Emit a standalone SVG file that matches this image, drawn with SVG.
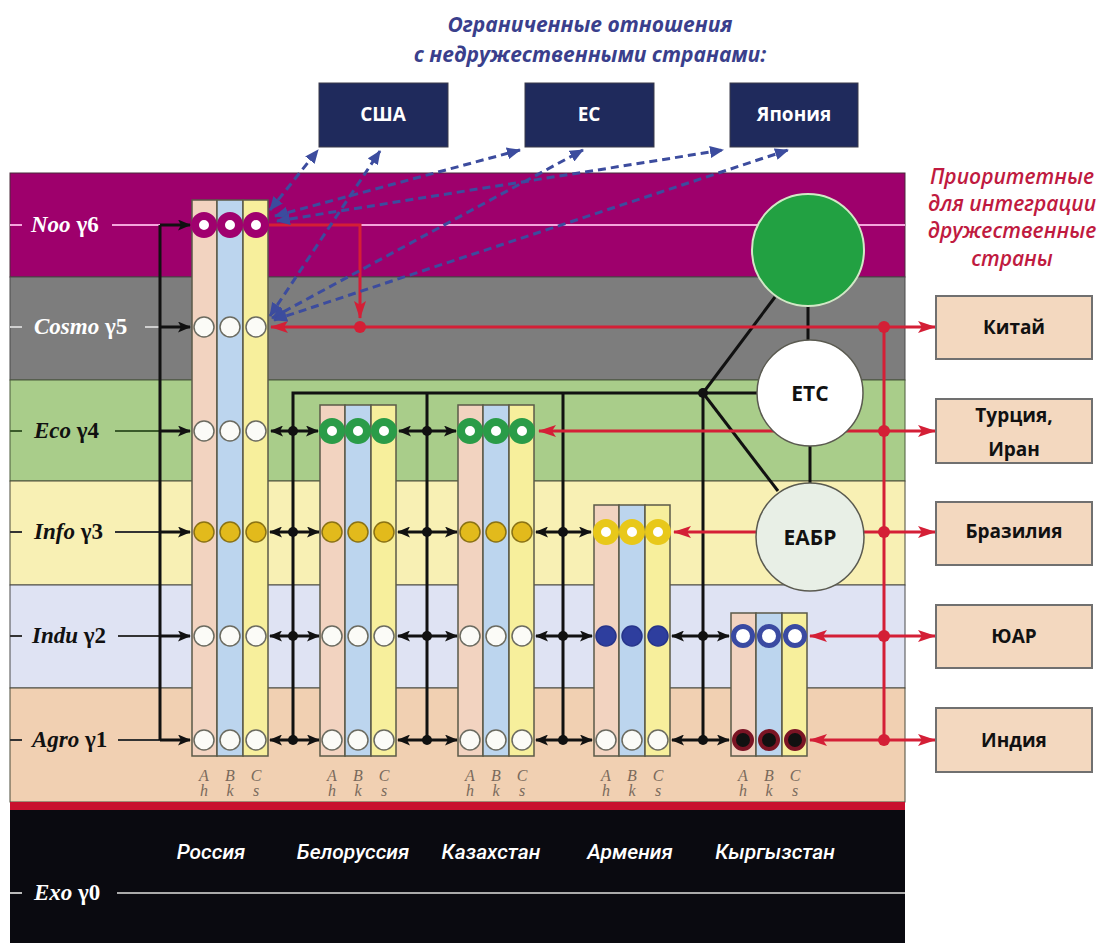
<svg xmlns="http://www.w3.org/2000/svg" width="1102" height="943" viewBox="0 0 1102 943">
<defs>
<style>
.lvl{font-family:"Liberation Serif",serif;font-weight:bold;font-size:23px}
.lvl .i{font-style:italic}
.abc{font-family:"Liberation Serif",serif;font-style:italic;font-size:16px;fill:#7a6a5c;text-anchor:middle}
.cty{font-family:Roboto,"Open Sans",sans-serif;font-style:italic;font-weight:500;font-size:21px;fill:#fff;text-anchor:middle}
.bn{fill:#1f2a5c;stroke:#3a3a4a;stroke-width:1}
.bnt{font-family:"Open Sans",sans-serif;font-weight:bold;font-size:19px;fill:#fff;text-anchor:middle}
.bf{fill:#f3d8bf;stroke:#707070;stroke-width:2}
.bft{font-family:"Open Sans",sans-serif;font-weight:bold;font-size:19px;fill:#111;text-anchor:middle}
.ct{font-family:"Open Sans",sans-serif;font-weight:bold;font-size:21px;fill:#111;text-anchor:middle}
.sa{fill:#f2d3c0}.sb{fill:#bcd5ee}.sc{fill:#f7ef9c}
.st{stroke:#5b5a48;stroke-width:1.5}
.cw{fill:#fbfbf7;stroke:#6b6b60;stroke-width:1.5}
.cm{fill:#fff;stroke:#a0006e;stroke-width:8}
.cg{fill:#fff;stroke:#2a9c48;stroke-width:8}
.cyr{fill:#fff;stroke:#e8c81a;stroke-width:8}
.cbr{fill:#fff;stroke:#3a4aa2;stroke-width:5}
.cyf{fill:#e2ba1c;stroke:#8a7214;stroke-width:1.5}
.cbf{fill:#2e3e9e;stroke:#26348a;stroke-width:1.5}
.ck{fill:#111;stroke:#7a1424;stroke-width:4}
.bl{stroke:#111;stroke-width:3;fill:none}
.dbl{stroke:#111;stroke-width:3;marker-start:url(#ab);marker-end:url(#ab)}
.one{stroke:#111;stroke-width:3;marker-end:url(#ab)}
.rd{stroke:#d41f36;stroke-width:3;fill:none}
.rda{stroke:#d41f36;stroke-width:3;marker-end:url(#ar)}
.bu{stroke:#3c4c9e;stroke-width:3;stroke-dasharray:8 5;fill:none;marker-start:url(#au);marker-end:url(#au)}
.dot{fill:#111}
.rdot{fill:#d41f36}
.t1{font-family:"Open Sans",sans-serif;font-style:italic;font-weight:bold;font-size:21px;fill:#3a3f8c;text-anchor:middle}
.t2{font-family:"Open Sans",sans-serif;font-style:italic;font-weight:600;font-size:21px;fill:#c01a40;text-anchor:middle}
</style>
<marker id="ab" viewBox="0 0 13 11" refX="12" refY="5.5" markerWidth="13" markerHeight="11" markerUnits="userSpaceOnUse" orient="auto-start-reverse"><path d="M0,0L13,5.5L0,11L3,5.5z" fill="#111"/></marker>
<marker id="ar" viewBox="0 0 18 12" refX="17" refY="6" markerWidth="18" markerHeight="12" markerUnits="userSpaceOnUse" orient="auto"><path d="M0,0L18,6L0,12L4,6z" fill="#d41f36"/></marker>
<marker id="au" viewBox="0 0 14 12" refX="13" refY="6" markerWidth="14" markerHeight="12" markerUnits="userSpaceOnUse" orient="auto-start-reverse"><path d="M0,0L14,6L0,12z" fill="#3c4c9e"/></marker>
</defs>

<rect width="1102" height="943" fill="#ffffff"/>

<g id="bands">
<rect x="10" y="173" width="895" height="104" fill="#9e006c" stroke="#4a2a3a" stroke-width="1"/>
<rect x="10" y="277" width="895" height="103" fill="#7d7d7d" stroke="#4a4a4a" stroke-width="1"/>
<rect x="10" y="380" width="895" height="101" fill="#a9cd8a" stroke="#4a5a3a" stroke-width="1"/>
<rect x="10" y="481" width="895" height="104" fill="#f8f0b4" stroke="#4a4a3a" stroke-width="1"/>
<rect x="10" y="585" width="895" height="103" fill="#dfe3f3" stroke="#4a4a4a" stroke-width="1"/>
<rect x="10" y="688" width="895" height="114" fill="#f1d0b2" stroke="#4a4a3a" stroke-width="1"/>
<rect x="10" y="802" width="895" height="8" fill="#c8102e"/>
<rect x="10" y="810" width="895" height="133" fill="#0a0a10"/>
</g>

<g id="level-labels">
<line x1="10" y1="225" x2="22" y2="225" stroke="#f4a6dc" stroke-width="2"/>
<line x1="112" y1="225" x2="160" y2="225" stroke="#f4a6dc" stroke-width="2"/>
<line x1="268" y1="225" x2="905" y2="225" stroke="#f4a6dc" stroke-width="2"/>
<text class="lvl" x="31" y="232" fill="#fff"><tspan class="i">Noo</tspan> γ6</text>
<line x1="10" y1="327" x2="22" y2="327" stroke="#cfcfcf" stroke-width="2"/>
<line x1="145" y1="327" x2="160" y2="327" stroke="#cfcfcf" stroke-width="2"/>
<text class="lvl" x="34" y="334" fill="#fff"><tspan class="i">Cosmo</tspan> γ5</text>
<line x1="10" y1="431" x2="22" y2="431" stroke="#3a5a2a" stroke-width="2"/>
<line x1="115" y1="431" x2="160" y2="431" stroke="#3a5a2a" stroke-width="2"/>
<text class="lvl" x="34" y="438" fill="#111"><tspan class="i">Eco</tspan> γ4</text>
<line x1="10" y1="532" x2="22" y2="532" stroke="#333" stroke-width="2"/>
<line x1="115" y1="532" x2="160" y2="532" stroke="#333" stroke-width="2"/>
<text class="lvl" x="34" y="539" fill="#111"><tspan class="i">Info</tspan> γ3</text>
<line x1="10" y1="636" x2="22" y2="636" stroke="#333" stroke-width="2"/>
<line x1="118" y1="636" x2="160" y2="636" stroke="#333" stroke-width="2"/>
<text class="lvl" x="32" y="643" fill="#111"><tspan class="i">Indu</tspan> γ2</text>
<line x1="10" y1="740" x2="22" y2="740" stroke="#333" stroke-width="2"/>
<line x1="118" y1="740" x2="160" y2="740" stroke="#333" stroke-width="2"/>
<text class="lvl" x="32" y="747" fill="#111"><tspan class="i">Agro</tspan> γ1</text>
<line x1="10" y1="893" x2="22" y2="893" stroke="#bbb" stroke-width="2"/>
<line x1="117" y1="893" x2="905" y2="893" stroke="#aaa" stroke-width="2"/>
<text class="lvl" x="34" y="900" fill="#fff"><tspan class="i">Exo</tspan> γ0</text>
</g>

<g id="connectors">
<line class="bl" x1="160" y1="225" x2="160" y2="740"/>
<line class="one" x1="160" y1="225" x2="190" y2="225"/>
<line class="one" x1="160" y1="327" x2="190" y2="327"/>
<line class="one" x1="160" y1="431" x2="190" y2="431"/>
<line class="one" x1="160" y1="532" x2="190" y2="532"/>
<line class="one" x1="160" y1="636" x2="190" y2="636"/>
<line class="one" x1="160" y1="740" x2="190" y2="740"/>
<polyline class="bl" points="293,740 293,393 757,393"/>
<line class="bl" x1="427" y1="393" x2="427" y2="740"/>
<line class="bl" x1="563" y1="393" x2="563" y2="740"/>
<line class="bl" x1="703" y1="393" x2="703" y2="740"/>
<line class="bl" x1="703" y1="393" x2="775" y2="297"/>
<line class="bl" x1="703" y1="393" x2="778" y2="491"/>
<line class="bl" x1="808" y1="305" x2="808" y2="341"/>
<line class="bl" x1="810" y1="445" x2="810" y2="484"/>
<line class="dbl" x1="271" y1="431" x2="318" y2="431"/>
<line class="dbl" x1="399" y1="431" x2="456" y2="431"/>
<line class="dbl" x1="270" y1="532" x2="319" y2="532"/>
<line class="dbl" x1="398" y1="532" x2="457" y2="532"/>
<line class="dbl" x1="536" y1="532" x2="591" y2="532"/>
<line class="dbl" x1="270" y1="636" x2="319" y2="636"/>
<line class="dbl" x1="398" y1="636" x2="457" y2="636"/>
<line class="dbl" x1="536" y1="636" x2="592" y2="636"/>
<line class="dbl" x1="672" y1="636" x2="729" y2="636"/>
<line class="dbl" x1="270" y1="740" x2="319" y2="740"/>
<line class="dbl" x1="398" y1="740" x2="457" y2="740"/>
<line class="dbl" x1="536" y1="740" x2="592" y2="740"/>
<line class="dbl" x1="672" y1="740" x2="729" y2="740"/>
<circle class="dot" cx="293" cy="431" r="5"/><circle class="dot" cx="293" cy="532" r="5"/><circle class="dot" cx="293" cy="636" r="5"/><circle class="dot" cx="293" cy="740" r="5"/>
<circle class="dot" cx="427" cy="431" r="5"/><circle class="dot" cx="427" cy="532" r="5"/><circle class="dot" cx="427" cy="636" r="5"/><circle class="dot" cx="427" cy="740" r="5"/>
<circle class="dot" cx="563" cy="532" r="5"/><circle class="dot" cx="563" cy="636" r="5"/><circle class="dot" cx="563" cy="740" r="5"/>
<circle class="dot" cx="703" cy="636" r="5"/><circle class="dot" cx="703" cy="740" r="5"/><circle class="dot" cx="703" cy="393" r="5"/>
<polyline class="rd" points="268,225 360,225 360,318" marker-end="url(#ar)"/>
<line class="rda" x1="884" y1="327" x2="271" y2="327"/>
<line class="rda" x1="884" y1="431" x2="539" y2="431"/>
<line class="rda" x1="884" y1="532" x2="674" y2="532"/>
<line class="rda" x1="884" y1="636" x2="810" y2="636"/>
<line class="rda" x1="884" y1="740" x2="810" y2="740"/>
<line class="rd" x1="884" y1="327" x2="884" y2="740"/>
<line class="rda" x1="884" y1="327" x2="935" y2="327"/>
<line class="rda" x1="884" y1="431" x2="935" y2="431"/>
<line class="rda" x1="884" y1="532" x2="935" y2="532"/>
<line class="rda" x1="884" y1="636" x2="935" y2="636"/>
<line class="rda" x1="884" y1="740" x2="935" y2="740"/>
<circle class="rdot" cx="360" cy="327" r="6"/>
<circle class="rdot" cx="884" cy="327" r="6"/><circle class="rdot" cx="884" cy="431" r="6"/><circle class="rdot" cx="884" cy="532" r="6"/><circle class="rdot" cx="884" cy="636" r="6"/><circle class="rdot" cx="884" cy="740" r="6"/>
<line class="bu" x1="270" y1="210" x2="318" y2="150"/>
<line class="bu" x1="275" y1="216" x2="520" y2="150"/>
<line class="bu" x1="277" y1="221" x2="723" y2="150"/>
<line class="bu" x1="270" y1="316" x2="380" y2="151"/>
<line class="bu" x1="272" y1="318" x2="583" y2="150"/>
<line class="bu" x1="274" y1="320" x2="788" y2="150"/>
</g>

<g id="col-russia">
<rect class="sa st" x="192" y="200" width="25" height="556"/>
<rect class="sb st" x="217" y="200" width="26" height="556"/>
<rect class="sc st" x="243" y="200" width="25" height="556"/>
<circle class="cm" cx="204" cy="225" r="9"/><circle class="cm" cx="230" cy="225" r="9"/><circle class="cm" cx="256" cy="225" r="9"/>
<circle class="cw" cx="204" cy="327" r="10"/><circle class="cw" cx="230" cy="327" r="10"/><circle class="cw" cx="256" cy="327" r="10"/>
<circle class="cw" cx="204" cy="431" r="10"/><circle class="cw" cx="230" cy="431" r="10"/><circle class="cw" cx="256" cy="431" r="10"/>
<circle class="cyf" cx="204" cy="532" r="10"/><circle class="cyf" cx="230" cy="532" r="10"/><circle class="cyf" cx="256" cy="532" r="10"/>
<circle class="cw" cx="204" cy="636" r="10"/><circle class="cw" cx="230" cy="636" r="10"/><circle class="cw" cx="256" cy="636" r="10"/>
<circle class="cw" cx="204" cy="740" r="10"/><circle class="cw" cx="230" cy="740" r="10"/><circle class="cw" cx="256" cy="740" r="10"/>
<text class="abc" x="204" y="781">A</text><text class="abc" x="230" y="781">B</text><text class="abc" x="256" y="781">C</text>
<text class="abc" x="204" y="796">h</text><text class="abc" x="230" y="796">k</text><text class="abc" x="256" y="796">s</text>
<text class="cty" x="211" y="859">Россия</text>
</g>

<g id="col-belarus">
<rect class="sa st" x="320" y="405" width="25" height="351"/>
<rect class="sb st" x="345" y="405" width="26" height="351"/>
<rect class="sc st" x="371" y="405" width="25" height="351"/>
<circle class="cg" cx="332" cy="431" r="9"/><circle class="cg" cx="358" cy="431" r="9"/><circle class="cg" cx="384" cy="431" r="9"/>
<circle class="cyf" cx="332" cy="532" r="10"/><circle class="cyf" cx="358" cy="532" r="10"/><circle class="cyf" cx="384" cy="532" r="10"/>
<circle class="cw" cx="332" cy="636" r="10"/><circle class="cw" cx="358" cy="636" r="10"/><circle class="cw" cx="384" cy="636" r="10"/>
<circle class="cw" cx="332" cy="740" r="10"/><circle class="cw" cx="358" cy="740" r="10"/><circle class="cw" cx="384" cy="740" r="10"/>
<text class="abc" x="332" y="781">A</text><text class="abc" x="358" y="781">B</text><text class="abc" x="384" y="781">C</text>
<text class="abc" x="332" y="796">h</text><text class="abc" x="358" y="796">k</text><text class="abc" x="384" y="796">s</text>
<text class="cty" x="353" y="859">Белоруссия</text>
</g>

<g id="col-kazakhstan">
<rect class="sa st" x="458" y="405" width="25" height="351"/>
<rect class="sb st" x="483" y="405" width="26" height="351"/>
<rect class="sc st" x="509" y="405" width="25" height="351"/>
<circle class="cg" cx="470" cy="431" r="9"/><circle class="cg" cx="496" cy="431" r="9"/><circle class="cg" cx="522" cy="431" r="9"/>
<circle class="cyf" cx="470" cy="532" r="10"/><circle class="cyf" cx="496" cy="532" r="10"/><circle class="cyf" cx="522" cy="532" r="10"/>
<circle class="cw" cx="470" cy="636" r="10"/><circle class="cw" cx="496" cy="636" r="10"/><circle class="cw" cx="522" cy="636" r="10"/>
<circle class="cw" cx="470" cy="740" r="10"/><circle class="cw" cx="496" cy="740" r="10"/><circle class="cw" cx="522" cy="740" r="10"/>
<text class="abc" x="470" y="781">A</text><text class="abc" x="496" y="781">B</text><text class="abc" x="522" y="781">C</text>
<text class="abc" x="470" y="796">h</text><text class="abc" x="496" y="796">k</text><text class="abc" x="522" y="796">s</text>
<text class="cty" x="491" y="859">Казахстан</text>
</g>

<g id="col-armenia">
<rect class="sa st" x="594" y="505" width="25" height="251"/>
<rect class="sb st" x="619" y="505" width="26" height="251"/>
<rect class="sc st" x="645" y="505" width="25" height="251"/>
<circle class="cyr" cx="606" cy="532" r="9"/><circle class="cyr" cx="632" cy="532" r="9"/><circle class="cyr" cx="658" cy="532" r="9"/>
<circle class="cbf" cx="606" cy="636" r="10"/><circle class="cbf" cx="632" cy="636" r="10"/><circle class="cbf" cx="658" cy="636" r="10"/>
<circle class="cw" cx="606" cy="740" r="10"/><circle class="cw" cx="632" cy="740" r="10"/><circle class="cw" cx="658" cy="740" r="10"/>
<text class="abc" x="606" y="781">A</text><text class="abc" x="632" y="781">B</text><text class="abc" x="658" y="781">C</text>
<text class="abc" x="606" y="796">h</text><text class="abc" x="632" y="796">k</text><text class="abc" x="658" y="796">s</text>
<text class="cty" x="630" y="859">Армения</text>
</g>

<g id="col-kyrgyzstan">
<rect class="sa st" x="731" y="613" width="25" height="143"/>
<rect class="sb st" x="756" y="613" width="26" height="143"/>
<rect class="sc st" x="782" y="613" width="25" height="143"/>
<circle class="cbr" cx="743" cy="636" r="9.5"/><circle class="cbr" cx="769" cy="636" r="9.5"/><circle class="cbr" cx="795" cy="636" r="9.5"/>
<circle class="ck" cx="743" cy="740" r="9"/><circle class="ck" cx="769" cy="740" r="9"/><circle class="ck" cx="795" cy="740" r="9"/>
<text class="abc" x="743" y="781">A</text><text class="abc" x="769" y="781">B</text><text class="abc" x="795" y="781">C</text>
<text class="abc" x="743" y="796">h</text><text class="abc" x="769" y="796">k</text><text class="abc" x="795" y="796">s</text>
<text class="cty" x="775" y="859">Кыргызстан</text>
</g>

<g id="green-circle"><circle cx="808" cy="250" r="56" fill="#22a142" stroke="#d2e8c6" stroke-width="2"/></g>
<g id="etc"><circle cx="810" cy="393" r="53" fill="#ffffff" stroke="#5a5a50" stroke-width="1.5"/><text class="ct" x="810" y="401">ЕТС</text></g>
<g id="eabr"><circle cx="810" cy="537" r="54" fill="#e8efe6" stroke="#5a5a50" stroke-width="1.5"/><text class="ct" x="810" y="545">ЕАБР</text></g>

<g id="title-left">
<text class="t1" x="590" y="32">Ограниченные отношения</text>
<text class="t1" x="590" y="62">с недружественными странами:</text>
</g>
<g id="box-usa"><rect class="bn" x="319" y="83" width="129" height="64"/><text class="bnt" x="383" y="121">США</text></g>
<g id="box-eu"><rect class="bn" x="525" y="83" width="129" height="64"/><text class="bnt" x="589" y="121">ЕС</text></g>
<g id="box-japan"><rect class="bn" x="730" y="83" width="128" height="64"/><text class="bnt" x="794" y="121">Япония</text></g>

<g id="title-right">
<text class="t2" x="1012" y="184">Приоритетные</text>
<text class="t2" x="1012" y="211">для интеграции</text>
<text class="t2" x="1012" y="238">дружественные</text>
<text class="t2" x="1012" y="266">страны</text>
</g>
<g id="box-china"><rect class="bf" x="936" y="296" width="156" height="63"/><text class="bft" x="1014" y="334">Китай</text></g>
<g id="box-turkey"><rect class="bf" x="936" y="399" width="156" height="64"/><text class="bft" x="1014" y="422">Турция,</text><text class="bft" x="1014" y="456">Иран</text></g>
<g id="box-brazil"><rect class="bf" x="936" y="502" width="156" height="63"/><text class="bft" x="1014" y="538">Бразилия</text></g>
<g id="box-sa"><rect class="bf" x="936" y="605" width="156" height="63"/><text class="bft" x="1014" y="643">ЮАР</text></g>
<g id="box-india"><rect class="bf" x="936" y="708" width="156" height="64"/><text class="bft" x="1014" y="747">Индия</text></g>
</svg>
